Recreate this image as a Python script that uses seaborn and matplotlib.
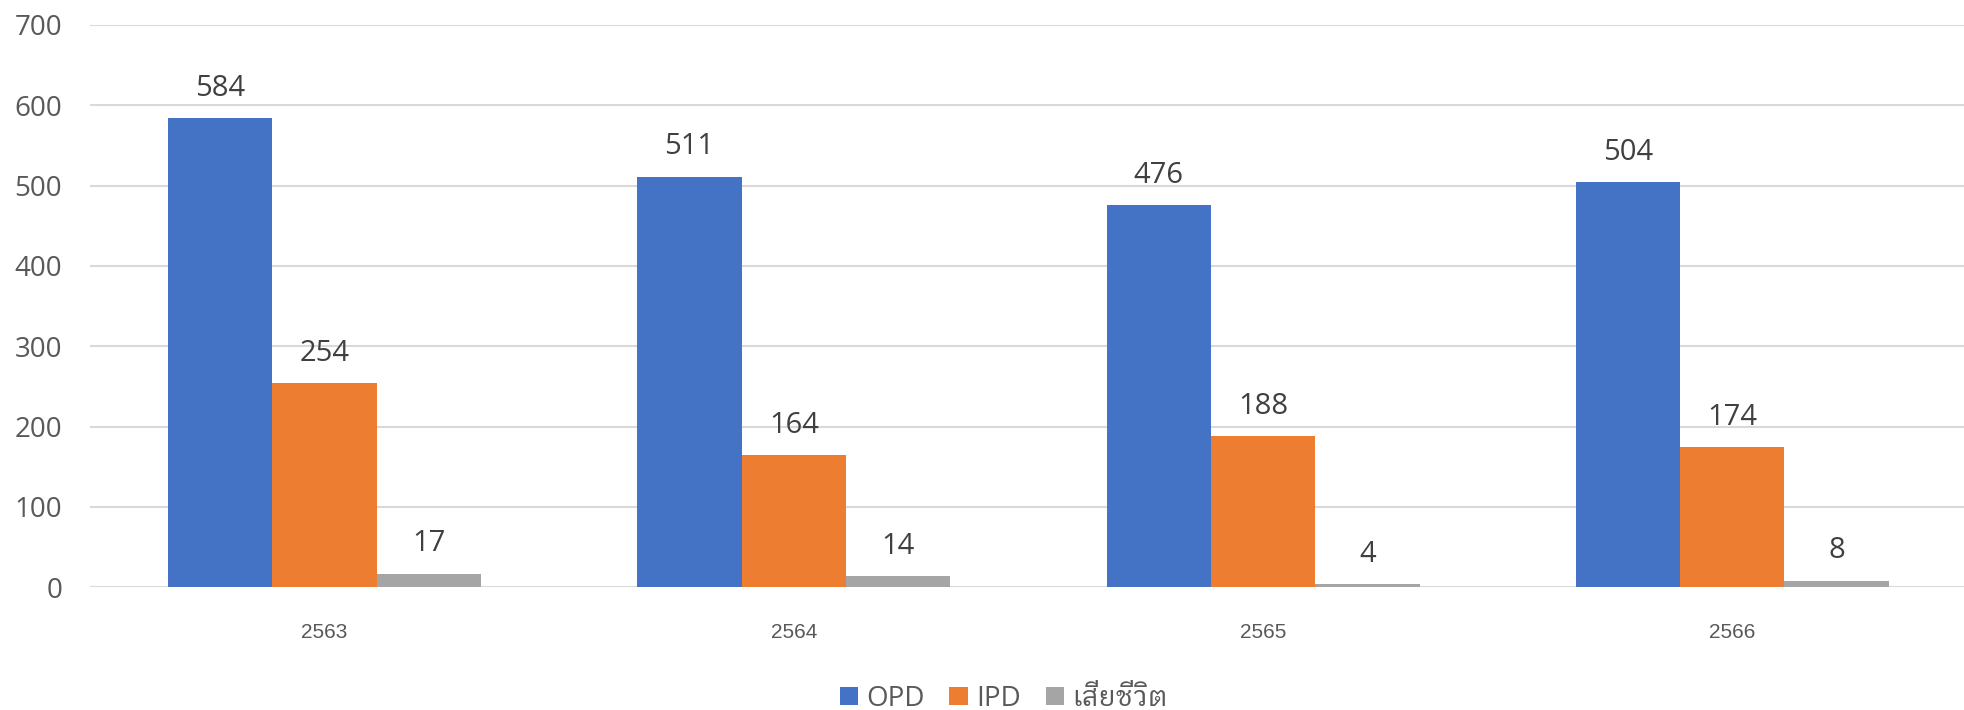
import matplotlib
matplotlib.use("Agg")
import matplotlib.pyplot as plt
from matplotlib import font_manager
import seaborn as sns
import pandas as pd

years = ["2563", "2564", "2565", "2566"]
series = ["OPD", "IPD", "เสียชีวิต"]
opd = [584, 511, 476, 504]
ipd = [254, 164, 188, 174]
deaths = [17, 14, 4, 8]
colors = ["#4472C4", "#ED7D31", "#A5A5A5"]

available = {f.name for f in font_manager.fontManager.ttflist}
thai_font = None
for cand in ["IBM Plex Sans Thai Looped", "IBM Plex Sans Thai", "Sarabun", "Krub", "K2D"]:
    if cand in available:
        thai_font = cand
        break

sns.set_theme(style="white")
fams = ["Open Sans"] + ([thai_font] if thai_font else []) + ["DejaVu Sans"]
plt.rcParams["font.family"] = fams

rows = []
for name, vals in zip(series, [opd, ipd, deaths]):
    for y, v in zip(years, vals):
        rows.append({"year": y, "series": name, "value": v})
df = pd.DataFrame(rows)

fig = plt.figure(figsize=(19.64, 7.10), dpi=100)
ax = fig.add_axes([0.0458, 0.173, 0.9557, 0.792])
sns.barplot(data=df, x="year", y="value", hue="series", palette=colors,
            width=0.667, gap=0, saturation=1, ax=ax, legend=True,
            edgecolor="none", linewidth=0)

for cont in ax.containers:
    for bar in cont:
        h = bar.get_height()
        ax.annotate(f"{int(round(h))}", (bar.get_x() + bar.get_width() / 2, h),
                    xytext=(0, 11), textcoords="offset points",
                    ha="center", va="bottom", fontsize=21, color="#404040")

ax.set_ylim(0, 700)
ax.set_xlim(-0.5, 3.5)
ax.set_yticks(range(0, 701, 100))
ax.grid(axis="y", color="#D9D9D9", linewidth=1.5)
ax.set_axisbelow(True)
for s in ax.spines.values():
    s.set_visible(False)
ax.set_xlabel("")
ax.set_ylabel("")
ax.tick_params(axis="y", labelsize=20, labelcolor="#595959", length=0, pad=20)
ax.tick_params(axis="x", labelsize=15, labelcolor="#595959", length=0, pad=26)
for lab in ax.get_xticklabels():
    lab.set_family(["Liberation Sans", "DejaVu Sans"])

handles, labels = ax.get_legend_handles_labels()
ax.legend_.remove()
leg = fig.legend(handles, labels, loc="center", bbox_to_anchor=(0.511, 0.016),
                 ncol=3, frameon=False, fontsize=20, labelcolor="#595959",
                 handlelength=0.65, handleheight=0.65, handletextpad=0.3,
                 columnspacing=0.9)
if thai_font:
    leg.get_texts()[2].set_family([thai_font, "DejaVu Sans"])

fig.savefig("out.png", dpi=100)
